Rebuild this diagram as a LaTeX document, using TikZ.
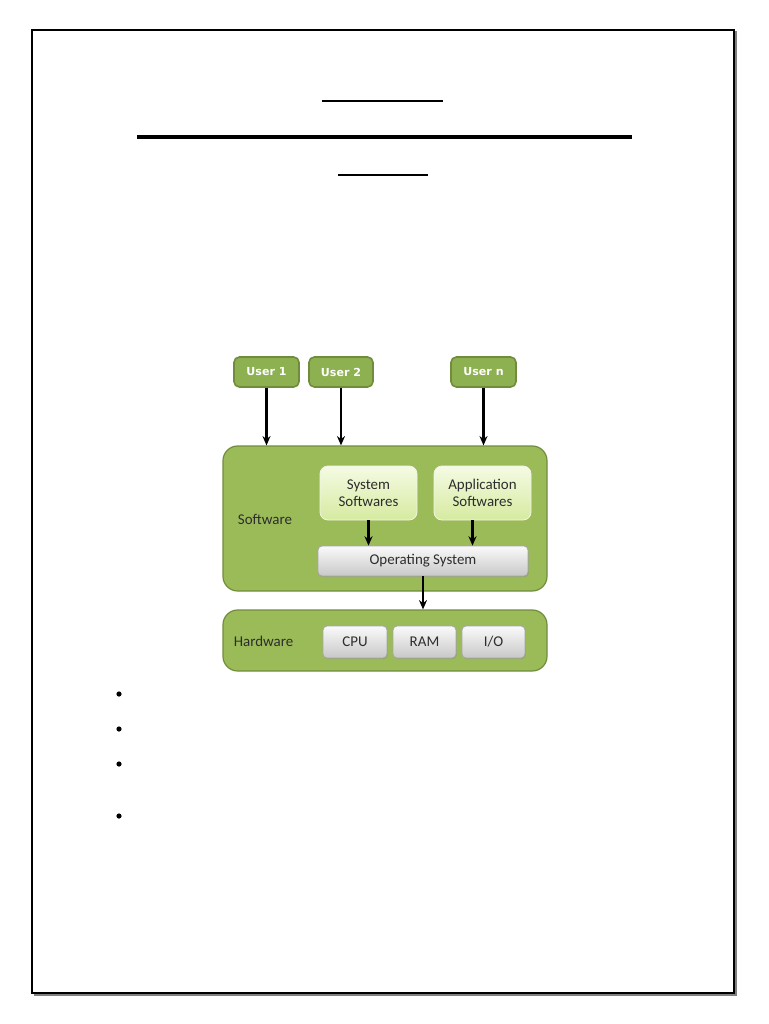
\documentclass[tikz,border=0pt]{standalone}
\usepackage{fontspec}
\setmainfont{Carlito}
\newfontfamily\userfont{DejaVu Sans}
\usetikzlibrary{arrows.meta,shadows}
\definecolor{olive}{RGB}{155,187,89}
\definecolor{oliveborder}{RGB}{112,140,60}
\definecolor{userfill}{RGB}{141,176,80}
\definecolor{lgtop}{RGB}{245,251,228}
\definecolor{lgbot}{RGB}{214,234,160}
\definecolor{gtop}{RGB}{250,250,250}
\definecolor{gbot}{RGB}{200,200,200}
\definecolor{txt}{RGB}{45,45,45}
\tikzset{
  userbox/.style={draw=oliveborder, line width=1.2pt, fill=userfill, rounded corners=4pt,
    text=white, font=\userfont\bfseries\fontsize{8.3}{10}\selectfont,
    minimum height=22.5pt, inner sep=0pt},
  layerbox/.style={draw=oliveborder, line width=0.9pt, fill=olive, rounded corners=11pt,
    minimum width=243pt, inner sep=0pt},
  swbox/.style={draw=white!85!olive, line width=0.6pt, top color=lgtop, bottom color=lgbot,
    rounded corners=6pt, minimum width=72.75pt, minimum height=40.5pt, inner sep=0pt,
    align=center, text=txt, font=\fontsize{11.2}{12.75}\selectfont},
  graybox/.style={draw=gray!70, line width=0.6pt, top color=gtop, bottom color=gbot,
    rounded corners=3pt, inner sep=0pt, text=txt, font=\fontsize{11.2}{13}\selectfont,
    drop shadow={shadow xshift=0.6pt, shadow yshift=-0.8pt, opacity=0.35}},
  layerlabel/.style={text=txt, font=\fontsize{11.2}{13}\selectfont, inner sep=0pt},
  conn/.style={-{Stealth[length=7pt,width=6pt]}, line width=1.6pt, black},
  rule/.style={black, line width=2pt}
}
\begin{document}
\begin{tikzpicture}[x=0.75pt,y=-0.75pt]
\useasboundingbox (0,0) rectangle (768,1024);
% page border
\draw[gray, line width=1.6pt] (34,995) -- (736,995) -- (736,31);
\draw[black, line width=0.8pt] (32,30) rectangle (734,993);
% title rules
\draw[rule] (322,101) -- (443,101);
\draw[rule, line width=2.6pt] (137,137) -- (632,137);
\draw[rule] (338,175) -- (428,175);
% users
\node[userbox, minimum width=48.75pt] (u1) at (266.5,372) {User 1};
\node[userbox, minimum width=48pt] (u2) at (341,372) {User 2};
\node[userbox, minimum width=48.75pt] (un) at (483.5,372) {User n};
% software layer
\node[layerbox, minimum height=108.75pt] (sw) at (385,518.5) {};
\node[layerlabel] (swl) at (265,519) {Software};
\node[swbox] (sys) at (368.5,493) {System\\Softwares};
\node[swbox] (app) at (482.5,493) {Application\\Softwares};
\node[graybox, minimum width=157.5pt, minimum height=22.5pt] (os) at (423,561) {Operating System};
% hardware layer
\node[layerbox, minimum height=45.75pt] (hw) at (385,640.5) {};
\node[layerlabel] (hwl) at (263.5,641) {Hardware};
\node[graybox, minimum width=48pt, minimum height=24pt] (cpu) at (355,642) {CPU};
\node[graybox, minimum width=47.25pt, minimum height=24pt] (ram) at (424.5,642) {RAM};
\node[graybox, minimum width=47.25pt, minimum height=24pt] (io) at (493.5,642) {I/O};
% connectors
\draw[conn] (u1.south) -- (u1.south |- sw.north);
\draw[conn] (u2.south) -- (u2.south |- sw.north);
\draw[conn] (un.south) -- (un.south |- sw.north);
\draw[conn] (sys.south) -- (sys.south |- os.north);
\coordinate (appout) at ([xshift=-7.5pt]app.south);
\draw[conn] (appout) -- (appout |- os.north);
\draw[conn] (os.south) -- (os.south |- hw.north);
% bullets
\foreach \y in {694,729,764,816}
  \fill[black] (119,\y) circle (2.6);
\end{tikzpicture}
\end{document}
